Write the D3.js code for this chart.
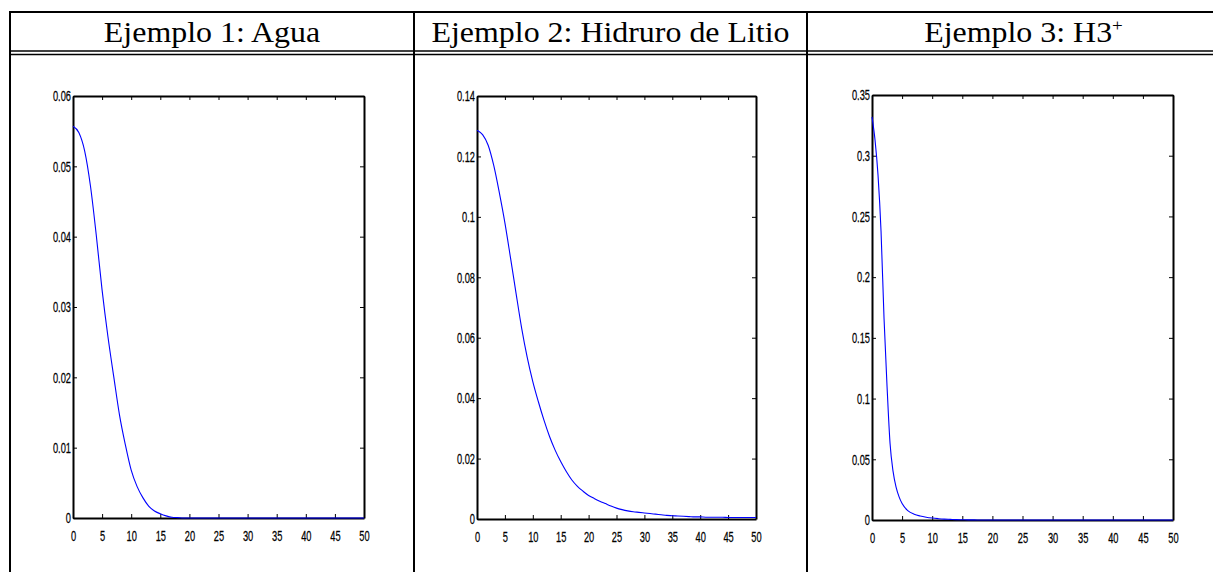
<!DOCTYPE html>
<html>
<head>
<meta charset="utf-8">
<script src="https://cdn.jsdelivr.net/npm/d3@7"></script>
<style>
body { margin: 0; background: #fff; }
.axis path, .axis line { stroke: #000; }
.axis path { stroke-width: 2px; }
.axis line { stroke-width: 1px; }
</style>
</head>
<body>
<script>

// table headers
var titles = ["Ejemplo 1: Agua", "Ejemplo 2: Hidruro de Litio", "Ejemplo 3: H3"];

// x samples and ticks
var xValues = [0, 1, 2, 3, 4, 5, 6, 7, 8, 9, 10, 11, 12, 13, 14, 15, 16, 17, 18, 19, 20,
    21, 22, 23, 24, 25, 26, 27, 28, 29, 30, 31, 32, 33, 34, 35, 36, 37, 38, 39, 40,
    41, 42, 43, 44, 45, 46, 47, 48, 49, 50];
var xTicks = [0, 5, 10, 15, 20, 25, 30, 35, 40, 45, 50];
var xTickLabels = ["0", "5", "10", "15", "20", "25", "30", "35", "40", "45", "50"];

// Ejemplo 1: Agua
var aguaValues = [0.0557, 0.0548, 0.0522, 0.0472, 0.0402, 0.0324, 0.0258, 0.0201, 0.0146, 0.0104,
    0.0068, 0.0045, 0.0029, 0.0017, 0.0010, 0.0006, 0.0003, 0.0001, 0.00005, 0, 0,
    0, 0, 0, 0, 0, 0, 0, 0, 0, 0, 0, 0, 0, 0, 0, 0, 0, 0, 0, 0,
    0, 0, 0, 0, 0, 0, 0, 0, 0, 0];
var aguaTicks = [0, 0.01, 0.02, 0.03, 0.04, 0.05, 0.06];
var aguaTickLabels = ["0", "0.01", "0.02", "0.03", "0.04", "0.05", "0.06"];

// Ejemplo 2: Hidruro de Litio
var litioValues = [0.1287, 0.1272, 0.1237, 0.1170, 0.1080, 0.0980, 0.0865, 0.0747, 0.0632, 0.0535,
    0.0455, 0.0388, 0.0327, 0.0273, 0.0228, 0.0190, 0.0157, 0.0129, 0.0108, 0.0092, 0.0078,
    0.0068, 0.0059, 0.0051, 0.0043, 0.0036, 0.0031, 0.0027, 0.0024, 0.0022, 0.0020,
    0.0018, 0.0016, 0.0014, 0.0012, 0.0011, 0.0010, 0.0009, 0.0008, 0.0007, 0.0007,
    0.0006, 0.0006, 0.0006, 0.0006, 0.0005, 0.0005, 0.0005, 0.0005, 0.0005, 0.0005];
var litioTicks = [0, 0.02, 0.04, 0.06, 0.08, 0.1, 0.12, 0.14];
var litioTickLabels = ["0", "0.02", "0.04", "0.06", "0.08", "0.1", "0.12", "0.14"];

// Ejemplo 3: H3+ (finer samples where it drops)
var h3X = [0, 0.5, 1, 1.5, 2, 2.5, 3, 3.5, 4, 4.5, 5, 6, 7, 8, 9, 10, 11, 12, 13, 14, 15,
    16, 17, 18, 19, 20, 25, 30, 35, 40, 45, 50];
var h3Values = [0.332, 0.313, 0.284, 0.238, 0.166, 0.110, 0.063, 0.040, 0.027, 0.019, 0.0135,
    0.0075, 0.0048, 0.0033, 0.0023, 0.0016, 0.0011, 0.0007, 0.0005, 0.0003, 0.0002,
    0.0001, 0.0001, 0, 0, 0, 0, 0, 0, 0, 0, 0];
var h3Ticks = [0, 0.05, 0.1, 0.15, 0.2, 0.25, 0.3, 0.35];
var h3TickLabels = ["0", "0.05", "0.1", "0.15", "0.2", "0.25", "0.3", "0.35"];

var width = 1213,
    height = 572,
    cellEdges = [10, 414, 807, 1240],
    squeeze = 0.62;   // matlab labels look narrow

var svg = d3.select("body")
    .append("svg")
    .attr("width", width)
    .attr("height", height);

svg.append("rect")
    .attr("width", width)
    .attr("height", height)
    .attr("fill", "#fff");

// table grid
var table = svg.append("g")
    .attr("stroke", "#000")
    .attr("fill", "none");

table.append("line")
    .attr("x1", cellEdges[0] - 1).attr("x2", width)
    .attr("y1", 12).attr("y2", 12)
    .attr("stroke-width", 2);

[51, 54.5].forEach(function(yy) {
    table.append("line")
        .attr("x1", cellEdges[0] - 1).attr("x2", width)
        .attr("y1", yy).attr("y2", yy)
        .attr("stroke-width", 1.5);
});

cellEdges.slice(0, 3).forEach(function(xx) {
    table.append("line")
        .attr("x1", xx).attr("x2", xx)
        .attr("y1", 11).attr("y2", height)
        .attr("stroke-width", 2);
});

// headers
titles.forEach(function(t, i) {
    var cx = (cellEdges[i] + cellEdges[i + 1]) / 2;
    var txt = svg.append("text")
        .attr("transform", "translate(" + cx + ",42) scale(1.12,1)")
        .attr("text-anchor", "middle")
        .style("font-family", "'Liberation Serif', 'Times New Roman', serif")
        .style("font-size", "28.5px")
        .attr("fill", "#000")
        .text(t);
    if (i === 2) {
        txt.append("tspan")
            .attr("dy", -11)
            .style("font-size", "17px")
            .text("+");
    }
});

var panels = [
    {xs: xValues, values: aguaValues, yMax: 0.06, ticks: aguaTicks, labels: aguaTickLabels,
        left: 73, right: 364, top: 96, bottom: 518},
    {xs: xValues, values: litioValues, yMax: 0.14, ticks: litioTicks, labels: litioTickLabels,
        left: 477, right: 756, top: 96, bottom: 519},
    {xs: h3X, values: h3Values, yMax: 0.35, ticks: h3Ticks, labels: h3TickLabels,
        left: 872, right: 1173, top: 95, bottom: 520}
];

panels.forEach(drawPanel);

function drawPanel(p) {
    var g = svg.append("g");

    var x = d3.scaleLinear().domain([0, 50]).range([p.left, p.right]);
    var y = d3.scaleLinear().domain([0, p.yMax]).range([p.bottom, p.top]);

    g.append("g")
        .attr("class", "axis")
        .attr("transform", "translate(0," + p.bottom + ")")
        .call(d3.axisBottom(x)
            .tickValues(xTicks)
            .tickFormat(function(d, i) { return xTickLabels[i]; })
            .tickSizeInner(-4).tickSizeOuter(0).tickPadding(12));

    g.append("g")
        .attr("class", "axis")
        .attr("transform", "translate(0," + p.top + ")")
        .call(d3.axisTop(x)
            .tickValues(xTicks).tickFormat("")
            .tickSizeInner(-4).tickSizeOuter(0));

    g.append("g")
        .attr("class", "axis")
        .attr("transform", "translate(" + p.left + ",0)")
        .call(d3.axisLeft(y)
            .tickValues(p.ticks)
            .tickFormat(function(d, i) { return p.labels[i]; })
            .tickSizeInner(-4).tickSizeOuter(0).tickPadding(2));

    g.append("g")
        .attr("class", "axis")
        .attr("transform", "translate(" + p.right + ",0)")
        .call(d3.axisRight(y)
            .tickValues(p.ticks).tickFormat("")
            .tickSizeInner(-4).tickSizeOuter(0));

    // squeeze the tick labels horizontally
    g.selectAll(".axis text")
        .style("font-family", "'Liberation Sans', Arial, sans-serif")
        .style("font-size", "15px")
        .attr("fill", "#000")
        .attr("stroke", "#000")
        .attr("stroke-width", 0.25)
        .attr("x", function() { return (+this.getAttribute("x") || 0) / squeeze; })
        .attr("transform", "scale(" + squeeze + ",1)");

    var line = d3.line()
        .curve(d3.curveMonotoneX)
        .x(function(d, i) { return x(p.xs[i]); })
        .y(function(d) { return y(d); });

    g.append("path")
        .datum(p.values)
        .attr("fill", "none")
        .attr("stroke", "#0000ff")
        .attr("stroke-width", 1.1)
        .attr("d", line);
}

</script>
</body>
</html>
